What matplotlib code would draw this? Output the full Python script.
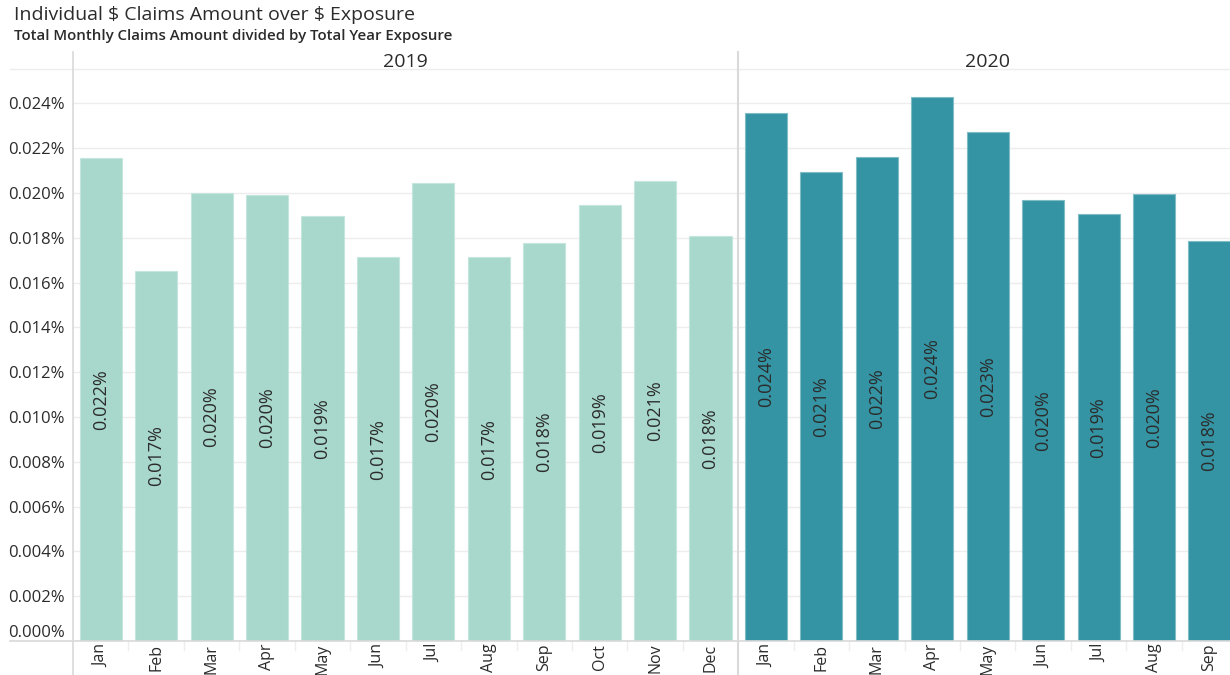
import matplotlib.pyplot as plt
import matplotlib.transforms as mtransforms
from matplotlib.lines import Line2D
import numpy as np

plt.rcParams['font.family'] = ['Open Sans', 'DejaVu Sans']

months_2019 = ['Jan', 'Feb', 'Mar', 'Apr', 'May', 'Jun', 'Jul', 'Aug', 'Sep', 'Oct', 'Nov', 'Dec']
months_2020 = ['Jan', 'Feb', 'Mar', 'Apr', 'May', 'Jun', 'Jul', 'Aug', 'Sep']
# claims / exposure, in percent
ratio_2019 = [0.02156, 0.01652, 0.02000, 0.01991, 0.01897, 0.01714,
              0.02046, 0.01714, 0.01777, 0.01948, 0.02054, 0.01808]
ratio_2020 = [0.02357, 0.02094, 0.02161, 0.02429, 0.02272,
              0.01969, 0.01906, 0.01996, 0.01786]
years = ['2019', '2020']

light = '#a8d8cc'
dark = '#3594a3'
text_col = '#2b2b2b'
grid_col = '#ededed'
line_col = '#d9d9d9'

W, H = 1230, 675
fig = plt.figure(figsize=(W / 100, H / 100), dpi=100)
ax = fig.add_axes([73 / W, (H - 641) / H, (W - 73) / W, (641 - 69) / H])

x19 = np.arange(len(months_2019))
x20 = np.arange(len(months_2020)) + len(months_2019)
bw = 0.76
ax.bar(x19, ratio_2019, width=bw, color=light, edgecolor='#c4e6de', linewidth=0.8, zorder=2)
ax.bar(x20, ratio_2020, width=bw, color=dark, edgecolor='#7fbcc6', linewidth=0.8, zorder=2)

# value labels, centred in each bar
for xs, vals in [(x19, ratio_2019), (x20, ratio_2020)]:
    for x, v in zip(xs, vals):
        ax.text(x, v / 2, f'{v:.3f}%', rotation=90, ha='center', va='center',
                fontsize=13, color=text_col, zorder=3)

ax.set_xlim(-0.5, 20.37)
ax.set_ylim(0, 0.02554)
yt = np.arange(0, 0.0241, 0.002)
ax.set_yticks(yt)
ax.set_yticklabels([f'{t:.3f}%' for t in yt])
ax.set_xticks(np.concatenate([x19, x20]))
ax.set_xticklabels(months_2019 + months_2020, rotation=90)
ax.tick_params(axis='y', length=0, pad=6, labelsize=12, labelcolor=text_col)
ax.tick_params(axis='x', length=0, pad=2, labelsize=11.5, labelcolor=text_col)

# lift the zero label above the baseline
zero_lbl = ax.get_yticklabels()[0]
zero_lbl.set_transform(zero_lbl.get_transform() +
                       mtransforms.ScaledTranslation(0, 10 / 100, fig.dpi_scale_trans))

ax.grid(axis='y', color=grid_col, linewidth=1, zorder=0)
for s in ax.spines.values():
    s.set_visible(False)

# frame lines: header rule, baseline, y axis, year divider
fig.add_artist(Line2D([10 / W, 1], [(H - 69) / H] * 2, color=grid_col, lw=1))
fig.add_artist(Line2D([10 / W, 1], [(H - 641) / H] * 2, color=line_col, lw=1.2))
fig.add_artist(Line2D([73 / W] * 2, [0, (H - 52) / H], color=line_col, lw=1.2))
fig.add_artist(Line2D([738 / W] * 2, [0, (H - 52) / H], color=line_col, lw=1.5))

# short separators between month labels
for xb in np.arange(0.5, 20, 1):
    if xb == 11.5:
        continue
    ax.plot([xb, xb], [0, -0.0004], color='#eeeeee', lw=1, clip_on=False)

# year headers
for cx, yr in zip([5.5, 16], years):
    ax.text(cx, 1.0 + 7 / 572, yr, transform=ax.get_xaxis_transform(),
            ha='center', va='center', fontsize=14, color=text_col, fontweight='medium')

fig.text(14 / W, 1 - 15 / H, r'Individual \$ Claims Amount over \$ Exposure',
         fontsize=14, color=text_col, va='center', ha='left')
fig.text(14 / W, 1 - 36 / H, 'Total Monthly Claims Amount divided by Total Year Exposure',
         fontsize=10.8, color=text_col, va='center', ha='left', fontweight='semibold')

fig.savefig('out.png', dpi=100)
